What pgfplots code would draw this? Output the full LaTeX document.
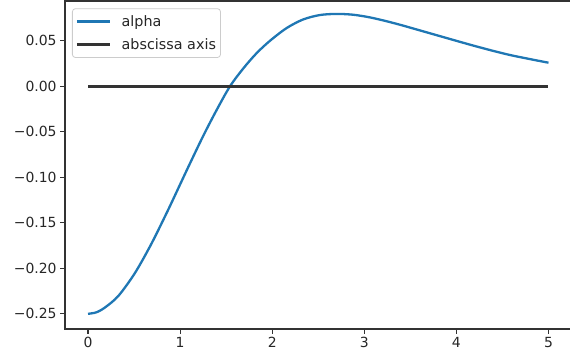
\documentclass[border=0pt]{standalone}
\usepackage{fontspec}
\setmainfont{DejaVu Sans}
\usepackage{pgfplots}
\pgfplotsset{compat=1.18}
\definecolor{mplblue}{HTML}{1F77B4}
\begin{document}
\begin{tikzpicture}
\begin{axis}[
  scale only axis,
  width=506.5bp, height=328bp,
  xmin=-0.25, xmax=5.25,
  ymin=-0.2667, ymax=0.0937,
  axis line style={black!80, line width=1.1bp},
  tick style={black!80, line width=1.1bp},
  major tick length=4.9bp,
  tick align=outside,
  xtick pos=bottom, ytick pos=left,
  xtick={0,1,2,3,4,5},
  xticklabels={0,1,2,3,4,5},
  ytick={-0.25,-0.2,-0.15,-0.1,-0.05,0,0.05},
  yticklabels={−0.25,−0.20,−0.15,−0.10,−0.05,0.00,0.05},
  ticklabel style={font=\fontsize{14}{16}\selectfont, text=black!85},
  /pgf/number format/assume math mode=true,
  legend cell align=left,
  legend image code/.code={\draw[#1] (0bp,0bp) -- (33bp,0bp);},
  legend style={at={(0,1)}, anchor=north west, xshift=7bp, yshift=-7.3bp,
    draw=black!20, line width=0.8bp, rounded corners=3bp,
    fill=white, fill opacity=0.8, text opacity=1,
    font=\fontsize{14.4}{17}\selectfont, text=black!85,
    inner xsep=3bp, inner ysep=5bp, row sep=8bp,
    nodes={inner sep=1.5bp},
    /tikz/every odd column/.append style={column sep=9bp}},
]
\addplot[mplblue, line width=2.3bp, smooth] coordinates {
(0,-0.250) (0.09,-0.2484) (0.185,-0.2430) (0.33,-0.2303) (0.51,-0.2051) (0.69,-0.1727)
(0.87,-0.1358) (1.0,-0.1078) (1.107,-0.0848) (1.252,-0.0543) (1.397,-0.0260)
(1.54,-0.0003) (1.686,0.0196) (1.83,0.0363) (1.976,0.0500) (2.157,0.0640)
(2.338,0.0735) (2.52,0.0783) (2.70,0.0795) (2.88,0.0786) (3.06,0.0757)
(3.24,0.0715) (3.42,0.0667) (3.60,0.0615) (3.86,0.0540) (4.22,0.0437)
(4.58,0.0344) (5.0,0.0259)
};
\addlegendentry{alpha}
\addplot[black!80, line width=2.8bp] coordinates {(0,0) (5,0)};
\addlegendentry{abscissa axis}
\end{axis}
\pgfresetboundingbox
\path[use as bounding box] ([shift={(-65bp,-29bp)}]current axis.south west) rectangle ([shift={(505bp,1bp)}]current axis.north west);
\end{tikzpicture}
\end{document}
